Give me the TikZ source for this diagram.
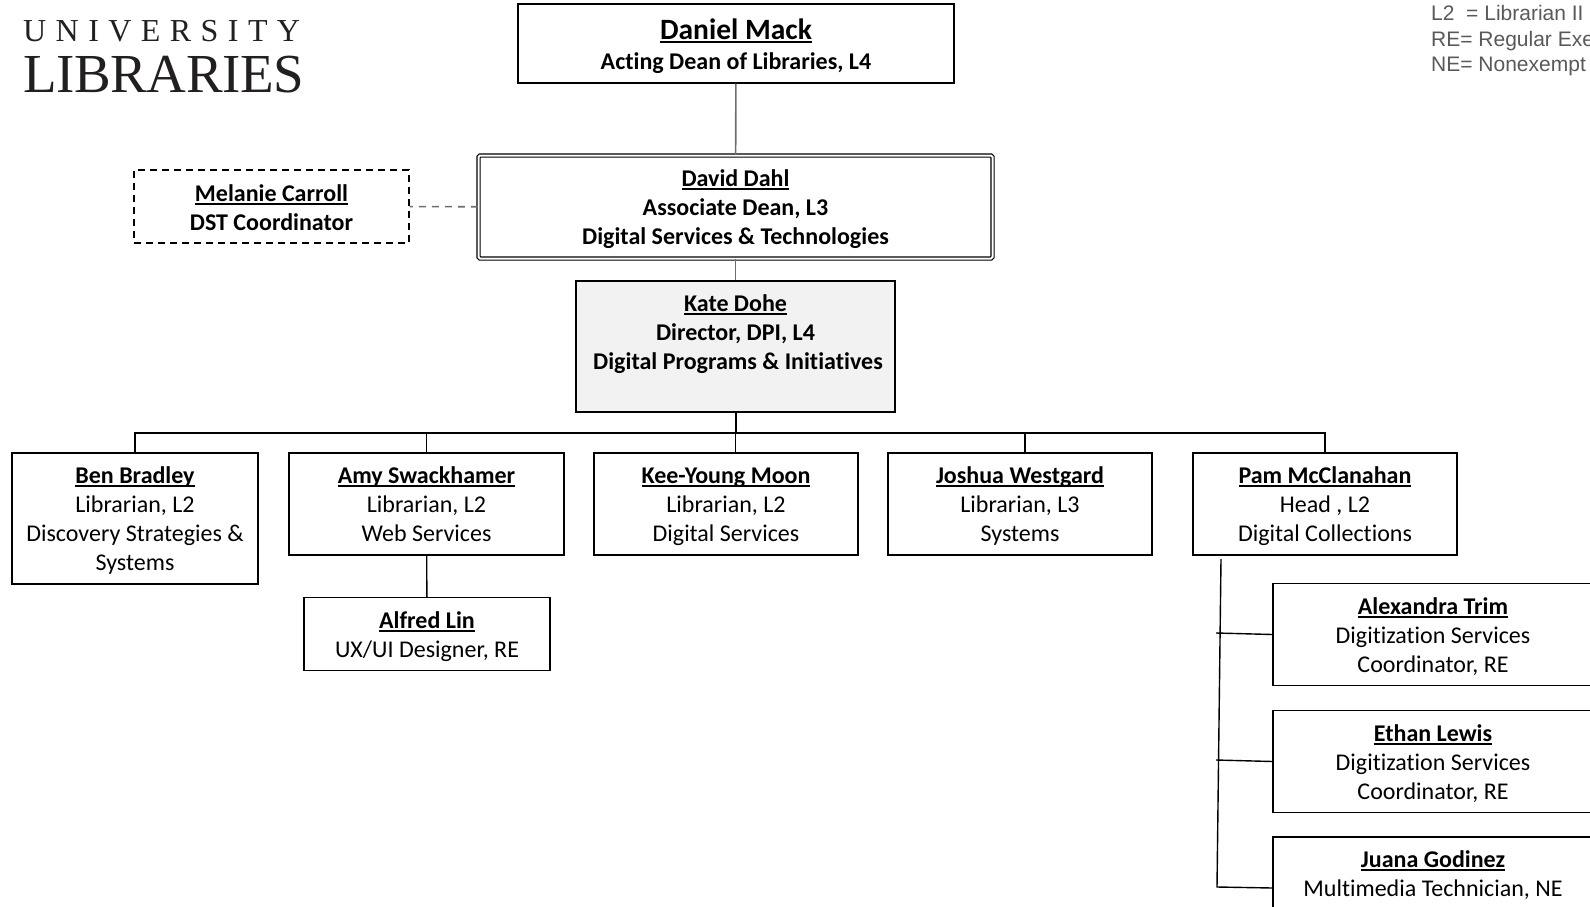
\documentclass[tikz,border=0pt]{standalone}
\usepackage{fontspec}
\setmainfont[Ligatures=CommonOff]{Carlito}
\newfontfamily\logofont[LetterSpace=29.5]{Liberation Serif}
\newfontfamily\logobig[LetterSpace=-0.8]{Liberation Serif}
\newfontfamily\keyfont{Liberation Sans}
\usepackage{xcolor}
\definecolor{orgline}{RGB}{110,110,110}
\definecolor{orgfill}{RGB}{242,242,242}
\definecolor{orgkey}{RGB}{89,89,89}
\definecolor{orglogo}{RGB}{35,31,32}
\newsavebox{\whobox}
\newcommand{\who}[1]{\sbox{\whobox}{#1}\rlap{\rule[-3.6pt]{\wd\whobox}{1.8pt}}\usebox{\whobox}\rule[-8pt]{0pt}{34pt}}
\tikzstyle{staff} = [rectangle, draw=black, fill=white, line width=1.4pt, align=center, inner sep=0pt, font=\fontsize{24}{29}\selectfont]
\tikzstyle{lead} = [staff, font=\fontsize{24}{29}\selectfont\bfseries]
\tikzstyle{report} = [black, line width=1.4pt]
\tikzstyle{upper} = [orgline, line width=1.6pt]
\tikzstyle{keyline} = [orgkey, anchor=base west, inner sep=0pt, font=\keyfont\fontsize{21}{24}\selectfont]
\begin{document}
\begin{tikzpicture}[x=1pt, y=-1pt]
\useasboundingbox (0,0) rectangle (1590,907);

% Logo
\node (logotop) [orglogo, anchor=west, inner sep=0pt, font=\logofont\fontsize{32}{36}\selectfont] at (23,31) {UNIVERSITY};
\node (logobottom) [orglogo, anchor=west, inner sep=0pt, font=\logobig\fontsize{55}{58}\selectfont] at (23,75) {LIBRARIES};

% Key
\node (keytwo) [keyline] at (1431,21) {L2\ \ = Librarian II};
\node (keyre) [keyline] at (1431,46.5) {RE= Regular Exe};
\node (keyne) [keyline] at (1431,71.5) {NE= Nonexempt};

% Deans
\node (mack) [lead, minimum width=436pt, minimum height=79pt] at (736,43.5) {{\fontsize{29.5}{31}\selectfont\who{Daniel Mack}\rule{0pt}{31pt}}\\[1.4pt]Acting Dean of Libraries, L4\strut};
\node (dahl) [lead, double, double distance=2pt, line width=1.2pt, rounded corners=1.5pt, minimum width=514pt, minimum height=103pt] at (735.5,207) {\who{David Dahl}\\Associate Dean, L3\\Digital Services \& Technologies\strut};
\node (carroll) [lead, dash pattern=on 7pt off 5pt, minimum width=275pt, minimum height=73pt] at (271.5,206.5) {\who{Melanie Carroll}\rule{0pt}{28pt}\\DST Coordinator\strut};
\node (dohe) [lead, fill=orgfill, minimum width=319pt, minimum height=131pt] at (735.5,346.5) {\who{Kate Dohe}\\Director, DPI, L4\\\hspace*{5pt}Digital Programs \& Initiatives\\\strut};

% Librarians
\node (bradley) [staff, minimum width=246pt, minimum height=131pt] at (135,518.5) {\textbf{\who{Ben Bradley}}\\Librarian, L2\\Discovery Strategies \&\\Systems\strut};
\node (swackhamer) [staff, minimum width=275pt, minimum height=102pt] at (426.5,504) {\textbf{\who{Amy Swackhamer}}\\Librarian, L2\\Web Services\strut};
\node (moon) [staff, minimum width=264pt, minimum height=102pt] at (726,504) {\textbf{\who{Kee-Young Moon}}\\Librarian, L2\\Digital Services\strut};
\node (westgard) [staff, minimum width=264pt, minimum height=102pt] at (1020,504) {\textbf{\who{Joshua Westgard}}\\Librarian, L3\\Systems\strut};
\node (mcclanahan) [staff, minimum width=264pt, minimum height=102pt] at (1325,504) {\textbf{\who{Pam McClanahan}}\\Head , L2\\Digital Collections\strut};
\node (lin) [staff, minimum width=246pt, minimum height=73pt] at (427,634) {\textbf{\who{Alfred Lin}}\\UX/UI Designer, RE\strut};

% Digital collections staff
\node (trim) [staff, minimum width=320pt, minimum height=102pt] at (1433,634.5) {\textbf{\who{Alexandra Trim}}\\Digitization Services\\Coordinator, RE\strut};
\node (lewis) [staff, minimum width=320pt, minimum height=102pt] at (1433,761.5) {\textbf{\who{Ethan Lewis}}\\Digitization Services\\Coordinator, RE\strut};
\node (godinez) [staff, minimum width=320pt, minimum height=102pt] at (1433,888) {\textbf{\who{Juana Godinez}}\\Multimedia Technician, NE\\\strut};

\coordinate (bar) at (735.5,433);
\coordinate (railtop) at (1221,559);
\coordinate (railbottom) at (1217,887);
\coordinate (tickone) at (1216,633);
\coordinate (ticktwo) at (1216,760);

\draw[upper] (mack) -- (dahl);
\draw[upper] (dahl) -- (dohe);
\draw[upper, dash pattern=on 7pt off 6pt] (dahl) -- (carroll);
\draw[report, line width=2pt] (dohe) -- (bar);
\draw[report] (bar) -- (dohe.south |- moon.north);
\draw[report] (bradley) |- (bar);
\draw[report] (mcclanahan) |- (bar);
\draw[report] (swackhamer.north) -- (swackhamer.north |- bar);
\draw[report] ([xshift=5pt]westgard.north) -- ([xshift=5pt]westgard.north |- bar);
\draw[report] (swackhamer) -- (lin);
\draw[report] (railtop) -- (railbottom) -- (godinez.west);
\draw[report] (tickone) -- (trim.west);
\draw[report] (ticktwo) -- (lewis.west);
\end{tikzpicture}
\end{document}
